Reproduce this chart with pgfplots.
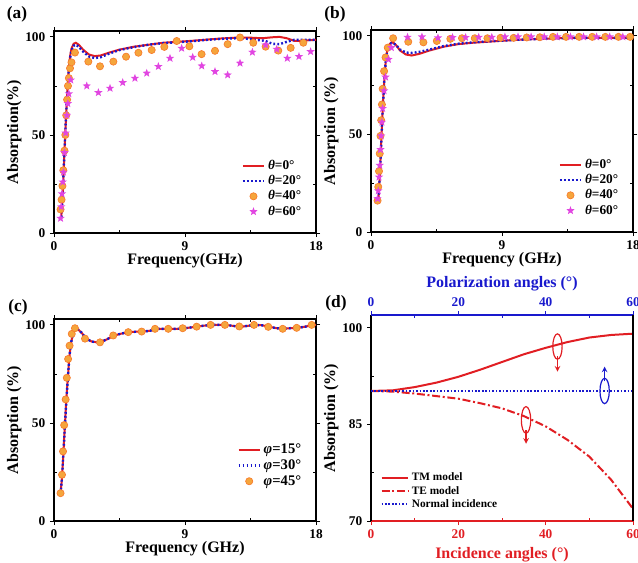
\documentclass[border=0pt]{standalone}
\usepackage{fontspec}
\setmainfont{Liberation Serif}
\usepackage{pgfplots}
\pgfplotsset{compat=1.18}
\usepackage{pgfplotstable}

\definecolor{cred}{RGB}{225,30,35}
\definecolor{cblue}{RGB}{25,25,205}
\definecolor{cmag}{RGB}{225,70,225}
\definecolor{corange}{RGB}{245,165,60}

\pgfdeclareplotmark{fstar}{%
  \pgfpathmoveto{\pgfpointpolar{90}{\pgfplotmarksize}}%
  \pgfpathlineto{\pgfpointpolar{126}{0.42\pgfplotmarksize}}%
  \pgfpathlineto{\pgfpointpolar{162}{\pgfplotmarksize}}%
  \pgfpathlineto{\pgfpointpolar{198}{0.42\pgfplotmarksize}}%
  \pgfpathlineto{\pgfpointpolar{234}{\pgfplotmarksize}}%
  \pgfpathlineto{\pgfpointpolar{270}{0.42\pgfplotmarksize}}%
  \pgfpathlineto{\pgfpointpolar{306}{\pgfplotmarksize}}%
  \pgfpathlineto{\pgfpointpolar{342}{0.42\pgfplotmarksize}}%
  \pgfpathlineto{\pgfpointpolar{18}{\pgfplotmarksize}}%
  \pgfpathlineto{\pgfpointpolar{54}{0.42\pgfplotmarksize}}%
  \pgfpathclose\pgfusepathqfill}

\tikzset{plab/.style={font=\fontsize{13}{14}\selectfont\bfseries}}

\pgfplotsset{
  base/.style={scale only axis, width=196.5pt,
    /pgf/number format/assume math mode=true,
    tick align=outside, major tick length=3pt, minor tick length=-2pt,
    every tick label/.append style={font=\fontsize{10}{11}\selectfont\bfseries},
    label style={font=\fontsize{12}{13}\selectfont\bfseries},
    ylabel style={yshift=-4pt},
    tick style={black, line width=0.6pt},
    axis line style={line width=0.8pt},
    legend cell align=left,
    legend style={draw=none, fill=none, font=\fontsize{10}{12}\selectfont\bfseries, row sep=-1pt},
    legend image code/.code={\draw[#1] (0pt,0pt) -- (16pt,0pt);},
  },
  freq/.style={base, height=151.5pt,
    xmin=0, xmax=18, ymin=0, ymax=103,
    xtick={0,9,18}, minor xtick={4.5,13.5},
    ytick={0,50,100}, minor ytick={25,75},
    xlabel style={yshift=4.5pt},
    legend style={at={(0.97,0.05)}, anchor=south east},
  },
  redline/.style={cred, line width=1.5pt, no marks},
  blueline/.style={cblue, line width=1.8pt, no marks, dash pattern=on 1.4pt off 1.6pt},
  balls/.style={only marks, mark=*, mark size=2.7pt, mark options={fill=corange, draw=corange!75!red, line width=0.5pt}},
  stars/.style={only marks, mark=fstar, mark size=3.3pt, color=cmag},
  markimg/.style={legend image code/.code={\draw[##1] plot coordinates {(8pt,0pt)};}},
}

\begin{document}
\begin{tikzpicture}
\path[use as bounding box] (0,0) rectangle (478.5pt,421.5pt);

% ---------------- (a)
\begin{axis}[freq, name=A, at={(40.5pt,246.75pt)}, anchor=south west,
  xlabel={Frequency(GHz)}, ylabel={Absorption(\%)}]
\addplot[redline] coordinates {(0.5,8) (0.6,20) (0.7,38) (0.8,55) (0.9,70) (1.0,82) (1.1,90) (1.2,94) (1.35,96.5) (1.5,97) (1.7,96) (2.0,93.5) (2.4,91) (2.8,90.2) (3.2,90.5) (3.8,92) (4.5,93.5) (5.5,95) (6.5,96) (7.5,97) (8.5,97.5) (9.5,98) (10.5,98.6) (11.5,99.2) (12.5,99.6) (13.5,99.6) (14.3,99.3) (15.0,99.8) (15.5,100) (16.0,99.3) (16.5,98) (17.0,98) (17.5,98.3) (18,98.5)};
\addlegendentry{\textit{θ}=0°}
\addplot[blueline] coordinates {(0.5,8) (0.6,20) (0.7,38) (0.8,55) (0.9,70) (1.0,82) (1.1,89) (1.2,93) (1.35,95.5) (1.5,96) (1.7,95) (2.0,92.5) (2.4,90) (2.8,89.2) (3.2,89.6) (3.8,91.5) (4.5,93.3) (5.5,94.8) (6.5,96) (7.5,96.8) (8.5,97.3) (9.5,97.8) (10.5,98.5) (11.5,99) (12.5,99.3) (13.0,99.3) (13.8,98.5) (14.5,98) (15.0,96.5) (15.5,96.3) (16.0,97.5) (16.5,98.5) (17,98.5) (18,98.5)};
\addlegendentry{\textit{θ}=20°}
\addplot[balls, markimg] coordinates {(0.45,12) (0.52,17) (0.58,24) (0.64,32) (0.72,42) (0.78,50) (0.84,60) (0.9,68) (0.96,75) (1.02,79) (1.1,84) (1.2,87) (1.44,92) (2.36,87.4) (3.16,85) (4.08,87.4) (4.95,89.9) (5.8,91.9) (6.71,93.3) (7.58,94.9) (8.43,97.9) (9.3,95.2) (10.14,91.2) (11.06,92.9) (11.93,96.3) (12.78,99.7) (13.69,97) (14.54,95) (15.41,93) (16.26,94.4) (17.13,97)};
\addlegendentry{\textit{θ}=40°}
\addplot[stars, markimg] coordinates {(0.45,7.5) (0.5,13.4) (0.55,20) (0.6,26) (0.65,31) (0.72,41) (0.8,51) (0.88,60) (0.95,66) (1.02,71) (1.15,78) (2.25,75) (3.05,71.6) (3.85,73.8) (4.72,76.7) (5.56,78.9) (6.37,81.5) (7.17,84.9) (7.97,89.1) (8.77,94.2) (9.53,89.6) (10.15,85.2) (11.06,82.3) (11.93,80.6) (12.78,86.6) (13.63,92.2) (14.54,95.9) (15.3,93.7) (16.03,89.1) (16.83,90) (17.63,92.5)};
\addlegendentry{\textit{θ}=60°}
\end{axis}

% ---------------- (b)
\begin{axis}[freq, name=B, at={(278.25pt,247.5pt)}, anchor=south west,
  xlabel={Frequency (GHz)}, ylabel={Absorption (\%)}]
\addplot[redline] coordinates {(0.5,15) (0.6,28) (0.7,45) (0.8,62) (0.9,76) (1.0,86) (1.1,92) (1.25,95.5) (1.45,97) (1.7,95.5) (2.0,92.5) (2.4,90.5) (2.8,90) (3.3,90.8) (4.0,92.5) (5.0,94.5) (6.0,95.8) (7.0,96.5) (8.0,97) (9.0,97.5) (10,98) (11,98.3) (12,98.6) (13,98.8) (14,99) (15,99) (16,99) (17,99) (18,99)};
\addlegendentry{\textit{θ}=0°}
\addplot[blueline] coordinates {(0.5,15) (0.6,28) (0.7,45) (0.8,62) (0.9,76) (1.0,86) (1.1,92) (1.25,95.5) (1.45,96.5) (1.7,95.5) (2.0,93) (2.4,91.5) (2.8,91.3) (3.3,91.8) (4.0,93) (5.0,94.8) (6.0,96) (7.0,96.7) (8.0,97.2) (9.0,97.6) (10,98) (11,98.3) (12,98.6) (13,98.8) (14,99) (15,99) (16,99) (17,99) (18,99)};
\addlegendentry{\textit{θ}=20°}
\addplot[balls, markimg] coordinates {(0.45,16) (0.5,23) (0.55,31) (0.6,40) (0.65,49) (0.7,57) (0.75,65) (0.8,73) (0.9,82) (1.0,89) (1.15,94) (1.52,98.8) (2.56,97) (3.6,96.7) (4.52,97.4) (5.45,98.5) (6.25,98.8) (7.13,98.8) (8.0,98.8) (8.9,99) (9.8,99) (10.7,99.2) (11.6,99.3) (12.5,99.5) (13.4,99.5) (14.3,99.5) (15.2,99.5) (16.1,99.5) (17.0,99.5) (17.8,99.5)};
\addlegendentry{\textit{θ}=40°}
\addplot[stars, markimg] coordinates {(0.45,17) (0.5,21) (0.55,28) (0.6,34) (0.65,42) (0.7,49) (0.75,56) (0.8,63) (0.9,72) (1.0,79) (1.2,88) (1.4,94) (2.51,99.3) (3.5,99.5) (4.6,99) (5.6,99.2) (6.5,99.2) (7.4,99.3) (8.3,99.3) (9.2,99.5) (10.1,99.5) (11,99.5) (11.9,99.5) (12.8,99.5) (13.7,99.5) (14.6,99.5) (15.5,99.5) (16.4,99.5) (17.3,99.5)};
\addlegendentry{\textit{θ}=60°}
\end{axis}

% ---------------- (c)
\begin{axis}[freq, name=C, at={(40.5pt,30.75pt)}, anchor=south west,
  xlabel={Frequency (GHz)}, ylabel={Absorption (\%)},
  legend style={at={(0.97,0.14)}, font=\fontsize{11}{13}\selectfont\bfseries}]
\addplot[redline] coordinates {(0.45,14) (0.55,22) (0.65,35) (0.75,49) (0.85,62) (0.95,73) (1.05,83) (1.15,90) (1.3,95.5) (1.45,98) (1.6,98) (1.9,96) (2.2,93) (2.6,91.5) (3.1,91) (3.6,92.5) (4.1,94.5) (4.6,95.5) (5.1,96.3) (5.6,96.5) (6.1,96.6) (6.6,97) (7.0,98) (7.5,98) (8.0,98) (8.5,98) (8.9,98.2) (9.4,98.7) (9.8,99.1) (10.3,99.6) (10.8,100) (11.3,100) (11.8,100) (12.3,99.5) (12.8,99) (13.3,99.5) (13.8,100) (14.3,99.8) (14.8,99) (15.3,98.3) (15.7,98) (16.2,98.3) (16.7,98.5) (17.2,99) (17.7,99.8) (18,100)};
\addlegendentry{\textit{φ}=15°}
\addplot[blueline] coordinates {(0.45,14) (0.55,22) (0.65,35) (0.75,49) (0.85,62) (0.95,73) (1.05,83) (1.15,90) (1.3,95.5) (1.45,98) (1.6,98) (1.9,96) (2.2,93) (2.6,91.5) (3.1,91) (3.6,92.5) (4.1,94.5) (4.6,95.5) (5.1,96.3) (5.6,96.5) (6.1,96.6) (6.6,97) (7.0,98) (7.5,98) (8.0,98) (8.5,98) (8.9,98.2) (9.4,98.7) (9.8,99.1) (10.3,99.6) (10.8,100) (11.3,100) (11.8,100) (12.3,99.5) (12.8,99) (13.3,99.5) (13.8,100) (14.3,99.8) (14.8,99) (15.3,98.3) (15.7,98) (16.2,98.3) (16.7,98.5) (17.2,99) (17.7,99.8) (18,100)};
\addlegendentry{\textit{φ}=30°}
\addplot[balls, markimg] coordinates {(0.45,14.2) (0.55,23.6) (0.62,35.5) (0.7,48.9) (0.8,62) (0.88,73) (0.97,82.6) (1.07,89.4) (1.22,95.4) (1.44,98.3) (2.13,93) (3.16,91.1) (4.07,94.6) (5.1,96.3) (6.02,96.6) (6.94,98) (7.85,98) (8.84,98.3) (9.8,99.1) (10.76,100) (11.74,100) (12.73,99.2) (13.74,100) (14.72,99) (15.71,98) (16.67,98.5) (17.7,100)};
\addlegendentry{\textit{φ}=45°}
\end{axis}

% ---------------- (d)
\begin{axis}[base, name=D, at={(278.25pt,30.75pt)}, anchor=south west, height=154.5pt,
  xmin=0, xmax=60, ymin=70, ymax=102,
  axis x line*=bottom, axis y line*=left,
  xtick={0,20,40,60}, minor xtick={10,30,50},
  ytick={70,85,100}, minor ytick={77.5,92.5},
  x axis line style={cred}, xtick style={cred},
  xticklabel style={text=cred},
  xlabel={Incidence angles (°)}, xlabel style={text=cred},
  ylabel={Absorption (\%)},
  legend style={at={(0.02,0.03)}, anchor=south west, font=\fontsize{8.5}{9.5}\selectfont\bfseries, row sep=-1.5pt},
  legend image code/.code={\draw[#1] (0pt,0pt) -- (20pt,0pt);}]
\addplot[cred, line width=1.5pt, no marks] coordinates {(0,90.2) (5,90.3) (10,90.8) (15,91.5) (20,92.4) (25,93.5) (30,94.7) (35,95.9) (40,96.9) (45,97.8) (50,98.5) (55,98.9) (60,99.1)};
\addlegendentry{TM model}
\addplot[cred, line width=1.5pt, no marks, dash pattern=on 6pt off 2pt on 1.5pt off 2pt] coordinates {(0,90.2) (5,90.1) (10,89.8) (15,89.4) (20,89.0) (25,88.3) (30,87.5) (35,86.3) (40,84.7) (45,82.6) (50,80.0) (55,76.4) (60,71.9)};
\addlegendentry{TE model}
\addplot[cblue, line width=1.3pt, no marks, dash pattern=on 1.2pt off 1.4pt] coordinates {(0,90.2) (60,90.2)};
\addlegendentry{Normal incidence}
\draw[cred, line width=0.9pt] (axis cs:42.7,97.1) ellipse [x radius=3.5pt, y radius=9.5pt];
\draw[cred, line width=0.9pt, -stealth] (axis cs:42.7,95.6) -- (axis cs:42.7,93.2);
\draw[cred, line width=0.9pt] (axis cs:35.5,85.7) ellipse [x radius=3.5pt, y radius=10pt];
\draw[cred, line width=0.9pt, -stealth] (axis cs:35.5,84.1) -- (axis cs:35.5,82.0);
\draw[cblue, line width=0.9pt] (axis cs:53.5,90.2) ellipse [x radius=3.5pt, y radius=9.5pt];
\draw[cblue, line width=0.9pt, -stealth] (axis cs:53.5,91.7) -- (axis cs:53.5,94.0);
\end{axis}
\begin{axis}[base, at={(278.25pt,30.75pt)}, anchor=south west, height=154.5pt,
  xmin=0, xmax=60, ymin=70, ymax=102,
  axis x line*=top, axis y line*=right, ytick=\empty,
  xtick={0,20,40,60}, minor xtick={10,30,50},
  x axis line style={cblue}, xtick style={cblue},
  xticklabel style={text=cblue},
  xlabel={Polarization angles (°)}, xlabel style={text=cblue, yshift=-2pt}]
\addplot[draw=none, forget plot] coordinates {(0,80) (60,80)};
\end{axis}

\node[plab] at ([xshift=-27.75pt, yshift=12.75pt]A.north west) {(a)};
\node[plab] at ([xshift=-27pt, yshift=12pt]B.north west) {(b)};
\node[plab] at ([xshift=-27pt, yshift=9pt]C.north west) {(c)};
\node[plab] at ([xshift=-26.25pt, yshift=9pt]D.north west) {(d)};
\end{tikzpicture}
\end{document}
